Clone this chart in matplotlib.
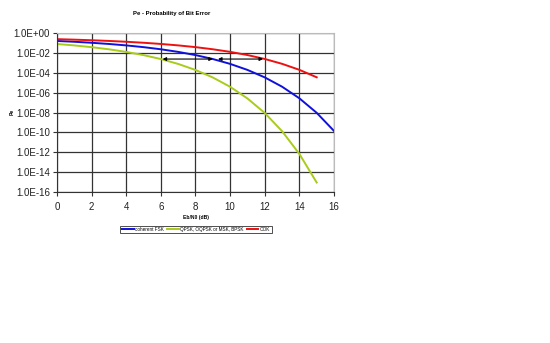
import matplotlib
matplotlib.use("Agg")
import matplotlib.pyplot as plt
from matplotlib.ticker import FixedLocator, NullLocator

plt.rcParams["font.family"] = ["Liberation Sans", "DejaVu Sans"]

# Eb/N0 in dB
ebno_db = [0, 1, 2, 3, 4, 5, 6, 7, 8, 9, 10, 11, 12, 13, 14, 15, 16]

# coherent FSK
pe_fsk = [1.587e-1, 1.309e-1, 1.040e-1, 7.89e-2, 5.65e-2, 3.77e-2, 2.30e-2,
          1.259e-2, 6.01e-3, 2.41e-3, 7.83e-4, 1.94e-4, 3.43e-5, 3.97e-6,
          2.70e-7, 9.36e-9, 1.40e-10]

# QPSK / OQPSK / MSK / BPSK (to 15 dB)
pe_psk = [7.865e-2, 5.628e-2, 3.751e-2, 2.288e-2, 1.250e-2, 5.954e-3,
          2.388e-3, 7.727e-4, 1.909e-4, 3.363e-5, 3.872e-6, 2.613e-7,
          9.006e-9, 1.333e-10, 6.810e-13, 9.124e-16]

# OOK (to 15 dB)
pe_ook = [2.398e-1, 2.138e-1, 1.867e-1, 1.590e-1, 1.312e-1, 1.043e-1,
          7.91e-2, 5.67e-2, 3.79e-2, 2.31e-2, 1.267e-2, 6.06e-3, 2.44e-3,
          7.93e-4, 1.97e-4, 3.50e-5]

series_names = ["coherent FSK", "QPSK, OQPSK or MSK, BPSK", "OOK"]

ytick_vals = [1e0, 1e-2, 1e-4, 1e-6, 1e-8, 1e-10, 1e-12, 1e-14, 1e-16]
ytick_labels = ["1.0E+00", "1.0E-02", "1.0E-04", "1.0E-06", "1.0E-08",
                "1.0E-10", "1.0E-12", "1.0E-14", "1.0E-16"]
xtick_vals = [0, 2, 4, 6, 8, 10, 12, 14, 16]

# 3 dB spacing markers at Pe ~ 2.4e-3
arrow_level = 2.4e-3
arrow_spans = [(6.1, 9.0), (9.3, 11.9)]

fig = plt.figure(figsize=(5.5, 3.43), dpi=100)
fig.patch.set_facecolor("white")
ax = fig.add_axes([0.1036, 0.440, 0.5037, 0.4638])

ax.set_yscale("log")
ax.set_xlim(0, 16)
ax.set_ylim(1e-16, 1e0)

n_fsk, n_psk, n_ook = len(pe_fsk), len(pe_psk), len(pe_ook)
ax.plot(ebno_db[:n_fsk], pe_fsk, color="#1010dd", lw=1.4, label=series_names[0])
ax.plot(ebno_db[:n_psk], pe_psk, color="#a8cc1a", lw=1.4, label=series_names[1])
ax.plot(ebno_db[:n_ook], pe_ook, color="#ee1111", lw=1.4, label=series_names[2])

for x0, x1 in arrow_spans:
    ax.annotate("", xy=(x1, arrow_level), xytext=(x0, arrow_level),
                arrowprops=dict(arrowstyle="<|-|>", color="black", lw=0.8,
                                mutation_scale=5, shrinkA=0, shrinkB=0))

ax.yaxis.set_major_locator(FixedLocator(ytick_vals))
ax.yaxis.set_minor_locator(NullLocator())
ax.set_yticklabels(ytick_labels)
ax.set_xticks(xtick_vals)
ax.tick_params(axis="both", labelsize=7, direction="out", length=3,
               width=0.8, color="#333333", labelcolor="#222222")
ax.tick_params(axis="y", pad=2)
ax.tick_params(axis="x", pad=4)

ax.grid(True, which="major", color="#333333", lw=0.9)
ax.set_axisbelow(True)
for side in ["top", "right"]:
    ax.spines[side].set_color("#bbbbbb")
for side in ["left", "bottom"]:
    ax.spines[side].set_color("#333333")

fig.text(172 / 550, 1 - 13 / 343, "Pe - Probability of Bit Error",
         ha="center", va="center", fontsize=4.3, fontweight="bold")
fig.text(196 / 550, 1 - 218 / 343, "Eb/N0 (dB)",
         ha="center", va="center", fontsize=3.6, fontweight="bold")
fig.text(12 / 550, 1 - 112 / 343, "Pe", ha="center", va="center",
         fontsize=3.6, fontweight="bold", rotation=90)

leg = fig.legend(loc="center", bbox_to_anchor=(196 / 550, 1 - 229.5 / 343),
                 ncol=3, fontsize=3.3, frameon=True, fancybox=False,
                 handlelength=2.6, handletextpad=0.35, columnspacing=0.6,
                 borderpad=0.3, borderaxespad=0)
leg.get_frame().set_edgecolor("#222222")
leg.get_frame().set_linewidth(0.7)

fig.savefig("out.png", dpi=100, facecolor="white")
